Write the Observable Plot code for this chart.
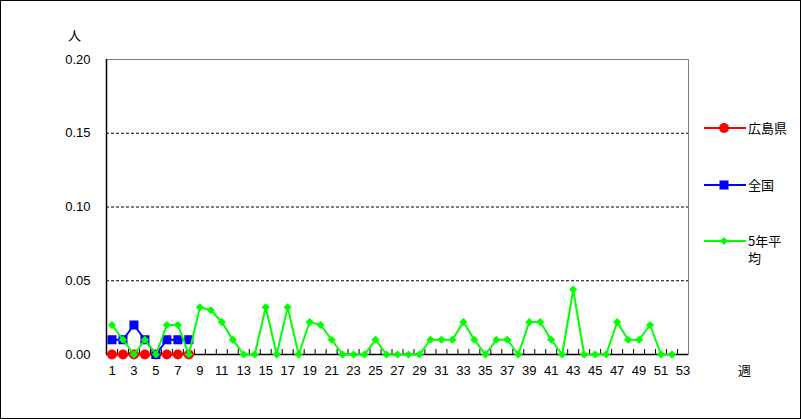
<!DOCTYPE html>
<html><head><meta charset="utf-8">
<script src="https://cdn.jsdelivr.net/npm/d3@7"></script>
<script src="https://cdn.jsdelivr.net/npm/@observablehq/plot@0.6"></script>
<style>
body{margin:0;background:#fff;}
#wrap{position:relative;width:801px;height:419px;overflow:hidden;font-family:"Liberation Sans",Arial,sans-serif;}
#border{position:absolute;left:0;top:0;width:801px;height:419px;box-sizing:border-box;border:1px solid #000;pointer-events:none;}
.lab{position:absolute;font-family:"Noto Sans CJK JP",sans-serif;font-size:13px;color:#000;line-height:17px;}
</style></head>
<body><div id="wrap"><div id="border"></div></div>
<script>
const weeks = d3.range(1, 54);
const hiroshima = [0,0,0,0,0,0,0,0];
const zenkoku = [0.01,0.01,0.02,0.01,0,0.01,0.01,0.01];
const avg5 = [0.02,0.01,0,0.01,0,0.02,0.02,0,0.032,0.03,0.022,0.01,0,0,0.032,0,0.032,0,0.022,0.02,0.01,0,0,0,0.01,0,0,0,0,0.01,0.01,0.01,0.022,0.01,0,0.01,0.01,0,0.022,0.022,0.01,0,0.044,0,0,0,0.022,0.01,0.01,0.02,0,0];
const yTicks = [0, 0.05, 0.10, 0.15, 0.20];
const xTickLabels = weeks.filter(w => w % 2 === 1);
const series = [
  {name:"広島県", values:hiroshima, color:"#ff0000", symbol:"circle", r:5},
  {name:"全国", values:zenkoku, color:"#0000ff", symbol:"square", r:5.1},
  {name:"5年平均", values:avg5, color:"#00ff00", symbol:"diamond2", r:3.7}
];
const rows = s => s.values.map((v,i)=>({week:i+1, value:v}));
const bounds = d3.range(1.5, 53.5, 1);

const marks = [
  Plot.gridY([0.05,0.10,0.15], {stroke:"#000", strokeOpacity:1, strokeDasharray:"3,2", strokeWidth:1}),
  Plot.frame({stroke:"#808080", strokeWidth:1}),
  Plot.ruleY([0], {stroke:"#000", strokeWidth:1.5}),
  Plot.ruleX([0.5], {stroke:"#000", strokeWidth:1.5}),
  Plot.ruleX(bounds, {x:d=>d, y1:0, y2:0, insetTop:-5, stroke:"#000"}),
  Plot.axisY(yTicks, {tickFormat:d3.format(".2f"), tickSize:0, tickPadding:16, fontSize:13, fill:"#000", label:null}),
  Plot.axisX(xTickLabels, {tickFormat:d=>String(d), tickSize:0, tickPadding:11, fontSize:13, fill:"#000", label:null})
];
for (const s of series) {
  marks.push(Plot.line(rows(s), {x:"week", y:"value", stroke:s.color, strokeWidth:2}));
  marks.push(Plot.dot(rows(s), {x:"week", y:"value", fill:s.color, stroke:"none", symbol:s.symbol, r:s.r}));
}
const chart = Plot.plot({
  width:801, height:419,
  marginLeft:106, marginRight:113, marginTop:59, marginBottom:65,
  x:{type:"linear", domain:[0.5,53.5], axis:null, label:null},
  y:{type:"linear", domain:[0,0.20], axis:null, label:null},
  style:{fontFamily:"'Liberation Sans', Arial, sans-serif", fontSize:"13px", background:"#fff", overflow:"visible"},
  marks
});
const wrap = document.getElementById("wrap");
chart.style.position="absolute"; chart.style.left="0"; chart.style.top="0";
wrap.insertBefore(chart, wrap.firstChild);

function addLabel(text, left, top){
  const d=document.createElement("div"); d.className="lab"; d.textContent=text;
  d.style.left=left+"px"; d.style.top=top+"px"; wrap.appendChild(d);
}
addLabel("人", 68, 26);
addLabel("週", 738, 361);

const legY = [128, 185, 241];
series.forEach((s,i)=>{
  const y = legY[i];
  const ns="http://www.w3.org/2000/svg";
  const svg=document.createElementNS(ns,"svg");
  svg.setAttribute("width",42); svg.setAttribute("height",14);
  svg.style.position="absolute"; svg.style.left="704px"; svg.style.top=(y-7)+"px";
  const ln=document.createElementNS(ns,"line");
  ln.setAttribute("x1",0); ln.setAttribute("x2",42); ln.setAttribute("y1",7); ln.setAttribute("y2",7);
  ln.setAttribute("stroke",s.color); ln.setAttribute("stroke-width",2); svg.appendChild(ln);
  const p=document.createElementNS(ns,"path");
  const sym = s.symbol==="circle"?d3.symbolCircle:s.symbol==="square"?d3.symbolSquare:d3.symbolDiamond2;
  p.setAttribute("d", d3.symbol(sym, Math.PI*s.r*s.r)());
  p.setAttribute("transform","translate(20,7)"); p.setAttribute("fill",s.color);
  svg.appendChild(p); wrap.appendChild(svg);
  const d=document.createElement("div"); d.className="lab";
  d.style.left="748px"; d.style.top=(y-9)+"px"; d.style.width="42px";
  d.textContent = s.name; wrap.appendChild(d);
});
</script></body></html>
